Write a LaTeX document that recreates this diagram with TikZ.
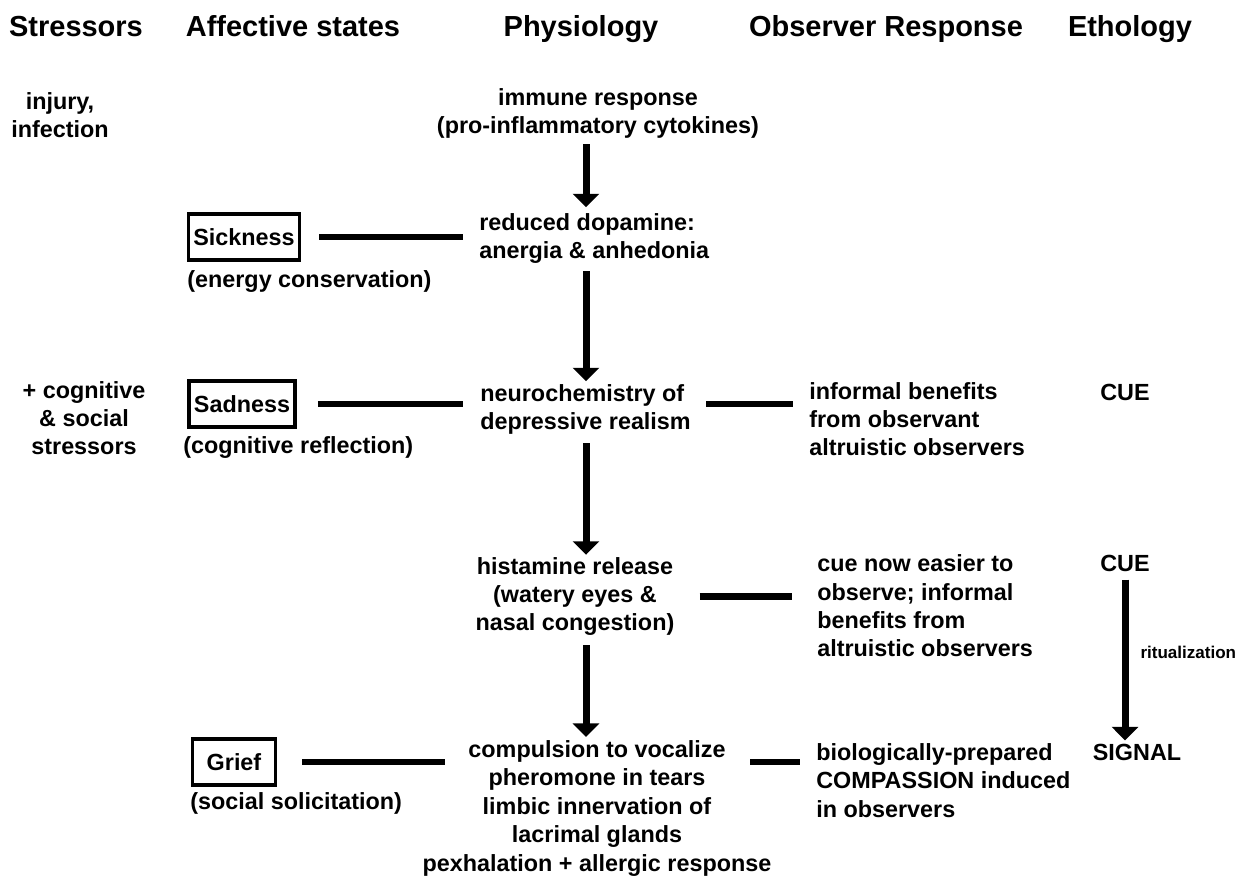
\documentclass[tikz,border=0pt]{standalone}
\usepackage{fontspec}
\setmainfont{Liberation Sans}
\usetikzlibrary{arrows.meta, positioning}

\tikzset{
  colhead/.style={anchor=base, inner sep=0, font=\bfseries\fontsize{16.5}{19}\selectfont},
  txt/.style={anchor=base, inner sep=0, align=center, font=\bfseries\fontsize{13.3}{16.2}\selectfont},
  txtl/.style={txt, anchor=base west, align=left},
  statebox/.style={draw, line width=0.07cm, inner xsep=0.1cm, inner ysep=0, minimum height=0.92cm, font=\bfseries\fontsize{13.3}{16.2}\selectfont},
  link/.style={line width=0.135cm},
  arr/.style={line width=0.14cm, -{Triangle[width=0.52cm, length=0.27cm]}},
  tinytxt/.style={inner sep=0, font=\bfseries\fontsize{9.7}{11}\selectfont}
}

\begin{document}
\begin{tikzpicture}[x=0.02cm, y=-0.02cm]
    \useasboundingbox (0,0) rectangle (1242,878);

    % column heads
    \node[colhead] (hstr) at (76,37) {Stressors};
    \node[colhead] (haff) at (293,37) {Affective states};
    \node[colhead] (hphy) at (581,37) {Physiology};
    \node[colhead] (hobs) at (886,37) {Observer Response};
    \node[colhead] (heth) at (1130,37) {Ethology};

    % stressors (multi-line nodes sit on their last baseline)
    \node[txt] (injury) at (60,138) {injury,\\infection};
    \node[txt] (cogn) at (84,455) {+ cognitive\\\& social\\stressors};

    % affective states
    \node[statebox] (sick) at (244,237) {Sickness};
    \node[txtl] (sicksub) at (187,288) {(energy conservation)};
    \node[statebox] (sad) at (242,404) {Sadness};
    \node[txtl] (sadsub) at (183,454) {(cognitive reflection)};
    \node[statebox, minimum width=1.67cm] (grief) at (234,762) {Grief};
    \node[txtl] (griefsub) at (190,809) {(social solicitation)};

    % physiology
    \node[txt] (imm) at (598,134) {immune response\\(pro-inflammatory cytokines)};
    \node[txtl] (dop) at (479,259) {reduced dopamine:\\anergia \& anhedonia};
    \node[txtl] (neuro) at (480,430) {neurochemistry of\\depressive realism};
    \node[txt] (hist) at (575,631) {histamine release\\(watery eyes \&\\nasal congestion)};
    \node[txt] (comp) at (597,871) {compulsion to vocalize\\pheromone in tears\\limbic innervation of\\lacrimal glands\\pexhalation + allergic response};

    % observer response
    \node[txtl] (obsinf) at (809,456) {informal benefits\\from observant\\altruistic observers};
    \node[txtl] (obscue) at (817,657) {cue now easier to\\observe; informal\\benefits from\\altruistic observers};
    \node[txtl] (obsbio) at (816,817) {biologically-prepared\\COMPASSION induced\\in observers};

    % ethology
    \node[txt] (cue1) at (1125,401) {CUE};
    \node[txt] (cue2) at (1125,572) {CUE};
    \node[txt] (signal) at (1137,761) {SIGNAL};

    % physiology chain
    \coordinate (axis) at (586,0);
    \draw[arr, shorten <=0.1cm, shorten >=0.12cm] (imm.south -| axis) -- (dop.north -| axis);
    \draw[arr, shorten <=0.14cm, shorten >=0.06cm] (dop.south -| axis) -- (neuro.north -| axis);
    \draw[arr, shorten <=0.16cm, shorten >=0.04cm] (neuro.south -| axis) -- (hist.north -| axis);
    \draw[arr, shorten <=0.18cm, shorten >=0.06cm] (hist.south -| axis) -- (comp.north -| axis);

    % states to physiology
    \draw[link, shorten <=0.36cm, shorten >=0.32cm] (sick.east) -- (sick.east -| dop.west);
    \draw[link, shorten <=0.42cm, shorten >=0.34cm] (sad.east) -- (sad.east -| neuro.west);
    \draw[link, shorten <=0.5cm, shorten >=-0.45cm] (grief.east) -- (grief.east -| comp.west);

    % physiology to observers
    \draw[link, shorten <=0.3cm, shorten >=0.32cm] (sad.east -| neuro.east) -- (sad.east -| obsinf.west);
    \draw[link, shorten <=0.5cm, shorten >=0.5cm] (hist.east) -- (hist.east -| obscue.west);
    \draw[link, shorten <=-0.43cm, shorten >=0.32cm] (grief.east -| comp.east) -- (grief.east -| obsbio.west);

    % ritualization
    \draw[arr, shorten <=0.14cm, shorten >=0.08cm] (cue2.south) -- (cue2.south |- signal.north)
        node[tinytxt, pos=0.465, anchor=west, xshift=0.24cm] (ritual) {ritualization};
\end{tikzpicture}
\end{document}
